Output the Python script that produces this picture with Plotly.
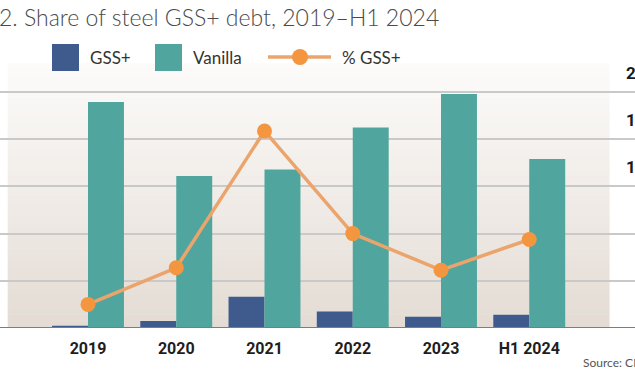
import plotly.graph_objects as go

# ---- data ----
categories = ["2019", "2020", "2021", "2022", "2023", "H1 2024"]
gss_plus = [0.05, 0.15, 0.66, 0.35, 0.24, 0.28]
vanilla = [4.79, 3.22, 3.36, 4.25, 4.96, 3.58]
pct_gss = [2.0, 5.1, 16.7, 8.0, 4.9, 7.5]
right_tick_vals = [12, 16, 20]
right_tick_text = ["12%", "16%", "20%"]

W, H = 635, 374
BASE_PX = 328          # pixel row of the zero line
UNIT_PX = 47.2         # pixels per left-axis unit
Y_MAX = BASE_PX / UNIT_PX
Y2_MAX = Y_MAX * 4
CAT_PX0, CAT_STEP = 88, 88.25

def px_x(p):
    return p / W

def px_y(p):
    return (BASE_PX - p) / BASE_PX

C_GSS = "#3f5b8e"
C_VAN = "#50a69f"
C_LINE = "#eba46c"
C_MARK = "#f4953f"

fig = go.Figure()
fig.add_trace(go.Bar(x=categories, y=gss_plus, name="GSS+", marker_color=C_GSS,
                     marker_line_width=0, showlegend=False))
fig.add_trace(go.Bar(x=categories, y=vanilla, name="Vanilla", marker_color=C_VAN,
                     marker_line_width=0, showlegend=False))
fig.add_trace(go.Scatter(x=categories, y=pct_gss, name="% GSS+", yaxis="y2",
                         mode="lines+markers",
                         line=dict(color=C_LINE, width=3.5),
                         marker=dict(color=C_MARK, size=15, line=dict(width=0)),
                         showlegend=False))

shapes = []
# gradient background panel
N = 40
top = 5.6
def lerp(a, b, t):
    return int(round(a + (b - a) * t))
c_bot = (0xe4, 0xdc, 0xd4)
c_top = (0xfc, 0xfb, 0xfa)
for i in range(N):
    t = i / (N - 1)
    col = "rgb(%d,%d,%d)" % tuple(lerp(c_bot[k], c_top[k], t) for k in range(3))
    shapes.append(dict(type="rect", xref="x", yref="y", x0=-0.91, x1=5.91,
                       y0=top * i / N, y1=top * (i + 1) / N + 0.01,
                       fillcolor=col, line=dict(width=0), layer="below"))
# baseline
shapes.append(dict(type="line", xref="paper", yref="y", x0=0, x1=1, y0=0, y1=0,
                   line=dict(color="#7d7d7d", width=2), layer="above"))

# manual legend
leg_y = 57
shapes.append(dict(type="rect", xref="paper", yref="paper",
                   x0=px_x(52), x1=px_x(79), y0=px_y(71), y1=px_y(44),
                   fillcolor=C_GSS, line=dict(width=0)))
shapes.append(dict(type="rect", xref="paper", yref="paper",
                   x0=px_x(155), x1=px_x(182), y0=px_y(71), y1=px_y(44),
                   fillcolor=C_VAN, line=dict(width=0)))
shapes.append(dict(type="line", xref="paper", yref="paper",
                   x0=px_x(268), x1=px_x(331), y0=px_y(leg_y), y1=px_y(leg_y),
                   line=dict(color=C_LINE, width=3.5)))
shapes.append(dict(type="circle", xref="paper", yref="paper",
                   x0=px_x(292), x1=px_x(308), y0=px_y(leg_y + 8), y1=px_y(leg_y - 8),
                   fillcolor=C_MARK, line=dict(width=0)))

annotations = []
annotations.append(dict(text="2. Share of steel GSS+ debt, 2019–H1 2024",
                        xref="paper", yref="paper", x=px_x(-3), y=px_y(17),
                        xanchor="left", yanchor="middle", showarrow=False,
                        font=dict(family="Lato", size=23, color="#4a4a4a", weight=300)))
for txt, xp in [("GSS+", 88), ("Vanilla", 191), ("% GSS+", 340)]:
    annotations.append(dict(text=txt, xref="paper", yref="paper", x=px_x(xp),
                            y=px_y(leg_y), xanchor="left", yanchor="middle",
                            showarrow=False,
                            font=dict(family="Lato", size=17, color="#333333")))
for v, t in zip(right_tick_vals, right_tick_text):
    annotations.append(dict(text=t, xref="paper", yref="y2", x=px_x(624), y=v,
                            xanchor="left", yanchor="bottom", yshift=7,
                            showarrow=False,
                            font=dict(family="Roboto", size=17, color="#1a1a1a", weight="bold")))
annotations.append(dict(text="Source: CEIC", xref="paper", yref="paper",
                        x=px_x(581), y=px_y(362), xanchor="left", yanchor="middle",
                        showarrow=False,
                        font=dict(family="Lato", size=12, color="#555555")))

fig.update_layout(
    width=W, height=H,
    margin=dict(l=0, r=0, t=0, b=H - BASE_PX, pad=0),
    paper_bgcolor="white", plot_bgcolor="white",
    barmode="group", bargap=0.185, bargroupgap=0,
    showlegend=False,
    xaxis=dict(range=[-CAT_PX0 / CAT_STEP, (W - CAT_PX0) / CAT_STEP],
               showgrid=False, zeroline=False, showline=False,
               ticks="", ticklabelstandoff=9,
               tickfont=dict(family="Roboto", size=16, color="#1e1e1e", weight="bold")),
    yaxis=dict(range=[0, Y_MAX], tickvals=[1, 2, 3, 4, 5], showticklabels=False,
               showgrid=True, gridcolor="#c9c9c9", gridwidth=1.5,
               zeroline=False, showline=False, ticks=""),
    yaxis2=dict(range=[0, Y2_MAX], overlaying="y", side="right",
                showgrid=False, showticklabels=False, zeroline=False,
                showline=False, ticks=""),
    shapes=shapes,
    annotations=annotations,
)

fig.write_html("out.html", config={"displayModeBar": False},
               post_script="document.body.style.margin='0';document.body.style.overflow='hidden';")
